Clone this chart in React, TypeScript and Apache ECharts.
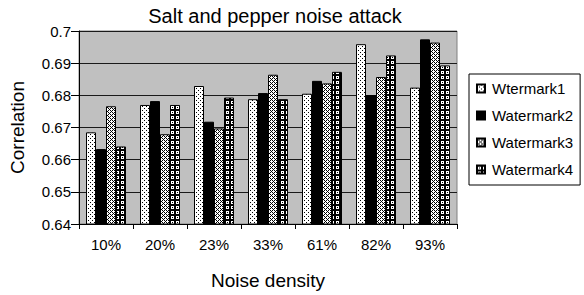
import React, { useEffect, useRef } from "react";
import * as echarts from "echarts";

const categories = ["10%", "20%", "23%", "33%", "61%", "82%", "93%"];
const seriesNames = ["Wtermark1", "Watermark2", "Watermark3", "Watermark4"];
const w1 = [0.6685, 0.677, 0.6829, 0.6788, 0.6805, 0.6959, 0.6824];
const w2 = [0.6633, 0.6782, 0.6718, 0.6807, 0.6845, 0.6801, 0.6974];
const w3 = [0.6766, 0.6679, 0.6697, 0.6864, 0.6837, 0.6857, 0.6964];
const w4 = [0.6641, 0.677, 0.6793, 0.6788, 0.6873, 0.6924, 0.6893];
const yTicks = { min: 0.64, max: 0.7, interval: 0.01 };

function makePattern(size: number, bg: string, fg: string, pts: number[][]) {
  const c = document.createElement("canvas");
  c.width = size;
  c.height = size;
  const ctx = c.getContext("2d")!;
  ctx.fillStyle = bg;
  ctx.fillRect(0, 0, size, size);
  ctx.fillStyle = fg;
  pts.forEach(([x, y]) => ctx.fillRect(x, y, 1, 1));
  return { image: c, repeat: "repeat" } as any;
}

export default function App() {
  const ref = useRef<HTMLDivElement>(null);
  useEffect(() => {
    if (!ref.current) return;
    const chart = echarts.init(ref.current, null, { renderer: "svg" });
    const p1 = makePattern(4, "#ffffff", "#000000", [[0, 0], [2, 2]]);
    const p3 = makePattern(4, "#ffffff", "#000000", [
      [0, 0], [1, 1], [2, 2], [3, 3], [2, 0], [0, 2],
    ]);
    const p4 = makePattern(5, "#000000", "#ffffff", [
      [1, 1], [2, 1], [3, 1], [1, 2], [3, 2], [1, 3], [2, 3], [3, 3],
    ]);
    const fills = [p1, "#000000", p3, p4];
    const datas = [w1, w2, w3, w4];
    const font = "'Liberation Sans', Arial, sans-serif";
    chart.setOption({
      animation: false,
      title: {
        text: "Salt and pepper noise attack",
        left: 270,
        top: 1,
        textAlign: "center",
        textStyle: { fontFamily: font, fontSize: 20, fontWeight: "normal", color: "#000" },
      },
      grid: {
        left: 79,
        right: 127,
        top: 31,
        bottom: 68,
        show: true,
        backgroundColor: "#c0c0c0",
        borderColor: "#808080",
        borderWidth: 1,
      },
      legend: {
        orient: "vertical",
        left: 469,
        top: 74,
        padding: [7, 7, 8, 7],
        itemGap: 12,
        itemWidth: 8,
        itemHeight: 8,
        icon: "rect",
        borderColor: "#000",
        borderWidth: 1,
        backgroundColor: "#fff",
        textStyle: { fontFamily: font, fontSize: 15, color: "#000", padding: [0, 0, 0, 2] },
        data: seriesNames,
      },
      xAxis: {
        type: "category",
        data: categories,
        name: "Noise density",
        nameLocation: "middle",
        nameGap: 47,
        nameTextStyle: { fontFamily: font, fontSize: 19, color: "#000" },
        axisLine: { lineStyle: { color: "#000", width: 1 } },
        axisTick: { show: true, length: 5, lineStyle: { color: "#000" } },
        axisLabel: { fontFamily: font, fontSize: 15, color: "#000", margin: 13 },
      },
      yAxis: {
        type: "value",
        min: yTicks.min,
        max: yTicks.max,
        interval: yTicks.interval,
        name: "Correlation",
        nameLocation: "middle",
        nameGap: 52,
        nameTextStyle: { fontFamily: font, fontSize: 19, color: "#000" },
        axisLine: { show: true, lineStyle: { color: "#000", width: 1 } },
        axisTick: { show: true, length: 8, lineStyle: { color: "#000" } },
        axisLabel: {
          fontFamily: font,
          fontSize: 15,
          color: "#000",
          margin: 8,
          formatter: (v: number) => String(parseFloat(v.toFixed(2))),
        },
        splitLine: { show: true, lineStyle: { color: "#1a1a1a", width: 1 } },
      },
      series: seriesNames.map((name, i) => ({
        name,
        type: "bar",
        data: datas[i],
        barWidth: 10,
        barGap: "0%",
        itemStyle: { color: fills[i], borderColor: "#000", borderWidth: 1 },
      })),
    });
    return () => chart.dispose();
  }, []);
  return <div ref={ref} style={{ width: 584, height: 295, position: "absolute", left: 0, top: 0 }} />;
}
